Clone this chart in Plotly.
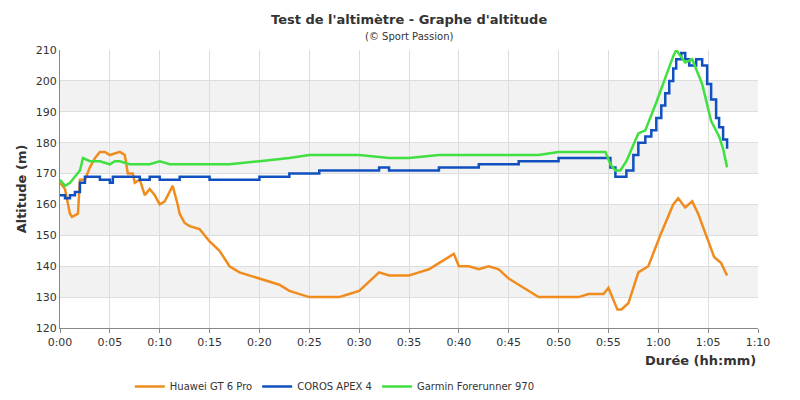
import plotly.graph_objects as go

tick_vals = list(range(0, 75, 5))
tick_text = ["%d:%02d" % (v // 60, v % 60) for v in tick_vals]

huawei_t = [0,0.5,1,1.2,1.8,2,2.5,3,3.5,4,4.5,5,6,6.5,6.8,7.3,7.5,8,8.5,9,9.5,10,10.5,11,11.3,11.8,12,12.5,13,14,15,16,17,18,19,20,21,22,23,24,25,26,27,28,29,30,31,32,33,34,35,36,37,38,39,39.5,40,41,42,43,44,45,46,47,48,49,50,51,52,53,54,54.5,55,55.5,55.9,56.3,57,58,59,60.2,61.5,62,62.7,63.4,64,64.8,65.6,66.3,66.9]
huawei_v = [167,165,157,156,157,168,168,172,175,177,177,176,177,176,170,170,167,168,163,165,163,160,161,164,166,160,157,154,153,152,148,145,140,138,137,136,135,134,132,131,130,130,130,130,131,132,135,138,137,137,137,138,139,141,143,144,140,140,139,140,139,136,134,132,130,130,130,130,130,131,131,131,133,129,126,126,128,138,140,150,160,162,159,161,157,150,143,141,137]

coros_t = [0,0.5,1,1.5,2,2.5,3,4,5,5.3,6,7,8,9,10,11,12,15,18,20,22,23,24,25,26,28,30,31,32,33,35,37,38,40,42,44,46,48,50,52,54,54.7,55.2,55.7,56.3,56.8,57.5,58,58.7,59.3,59.8,60.3,60.7,61.1,61.5,61.8,62.3,62.7,63.1,63.4,63.8,64.4,64.9,65.3,65.8,66.1,66.5,66.9]
coros_v = [163,162,163,164,167,169,169,168,167,169,169,169,168,169,168,168,169,168,168,169,169,170,170,170,171,171,171,171,172,171,171,171,172,172,173,173,174,174,175,175,175,175,172,169,169,171,176,180,182,184,188,192,196,200,204,207,209,207,205,205,207,205,199,194,188,185,181,178,174]

garmin_t = [0,0.5,1,1.5,2,2.3,3,4,5,5.5,6,7,8,9,10,11,14,17,20,23,25,28,30,33,35,38,40,43,45,48,50,53,54,54.7,55.2,55.7,56.2,56.8,58,58.7,59.8,60.7,61.5,61.8,62.7,63.4,64.4,65.3,66.1,66.5,66.9]
garmin_v = [168,166,167,169,171,175,174,174,173,174,174,173,173,173,174,173,173,173,174,175,176,176,176,175,175,176,176,176,176,176,177,177,177,177,173,171,171,174,183,184,193,201,208,210,206,207,199,187,182,178,172]

fig = go.Figure()
fig.add_trace(go.Scatter(x=huawei_t, y=huawei_v, name="Huawei GT 6 Pro", mode="lines",
                         line=dict(color="#f08c1e", width=2.5)))
fig.add_trace(go.Scatter(x=coros_t, y=coros_v, name="COROS APEX 4", mode="lines",
                         line=dict(color="#1050c0", width=2.5, shape="hv")))
fig.add_trace(go.Scatter(x=garmin_t, y=garmin_v, name="Garmin Forerunner 970", mode="lines",
                         line=dict(color="#40e040", width=2.5)))

shapes = []
for lo in [130, 150, 170, 190]:
    shapes.append(dict(type="rect", xref="paper", yref="y", x0=0, x1=1, y0=lo, y1=lo + 10,
                       fillcolor="#f2f2f2", line_width=0, layer="below"))

fig.update_layout(
    width=800, height=400, plot_bgcolor="white", paper_bgcolor="white",
    margin=dict(l=52, r=50, t=42, b=80, autoexpand=False),
    font=dict(family="DejaVu Sans", size=11, color="#333"),
    shapes=shapes,
    showlegend=True,
    legend=dict(orientation="h", x=0.1, y=-0.21, xanchor="left", yanchor="middle", font=dict(size=10)),
    xaxis=dict(range=[0, 70], tickvals=tick_vals, ticktext=tick_text, showgrid=True, gridcolor="#dddddd",
               zeroline=False, showline=True, linecolor="#888", ticks="outside", ticklen=4, tickcolor="#888",
               automargin=False),
    yaxis=dict(range=[120, 210], dtick=10, showgrid=True, gridcolor="#dddddd", zeroline=False,
               showline=True, linecolor="#888", automargin=False,
               title=dict(text="<b>Altitude (m)</b>", font=dict(size=13), standoff=6)),
)
fig.add_annotation(text="<b>Test de l'altimètre - Graphe d'altitude</b>", xref="paper", yref="paper",
                   x=0.5, y=1 + 31/278, xanchor="center", yanchor="middle", showarrow=False,
                   font=dict(size=13, color="#333"))
fig.add_annotation(text="(© Sport Passion)", xref="paper", yref="paper",
                   x=0.5, y=1 + 14/278, xanchor="center", yanchor="middle", showarrow=False,
                   font=dict(size=10, color="#333"))
fig.add_annotation(text="<b>Durée (hh:mm)</b>", xref="paper", yref="paper", x=1, y=-32/278,
                   xanchor="right", yanchor="middle", showarrow=False, font=dict(size=13, color="#333"))
fig.write_html("out.html")
